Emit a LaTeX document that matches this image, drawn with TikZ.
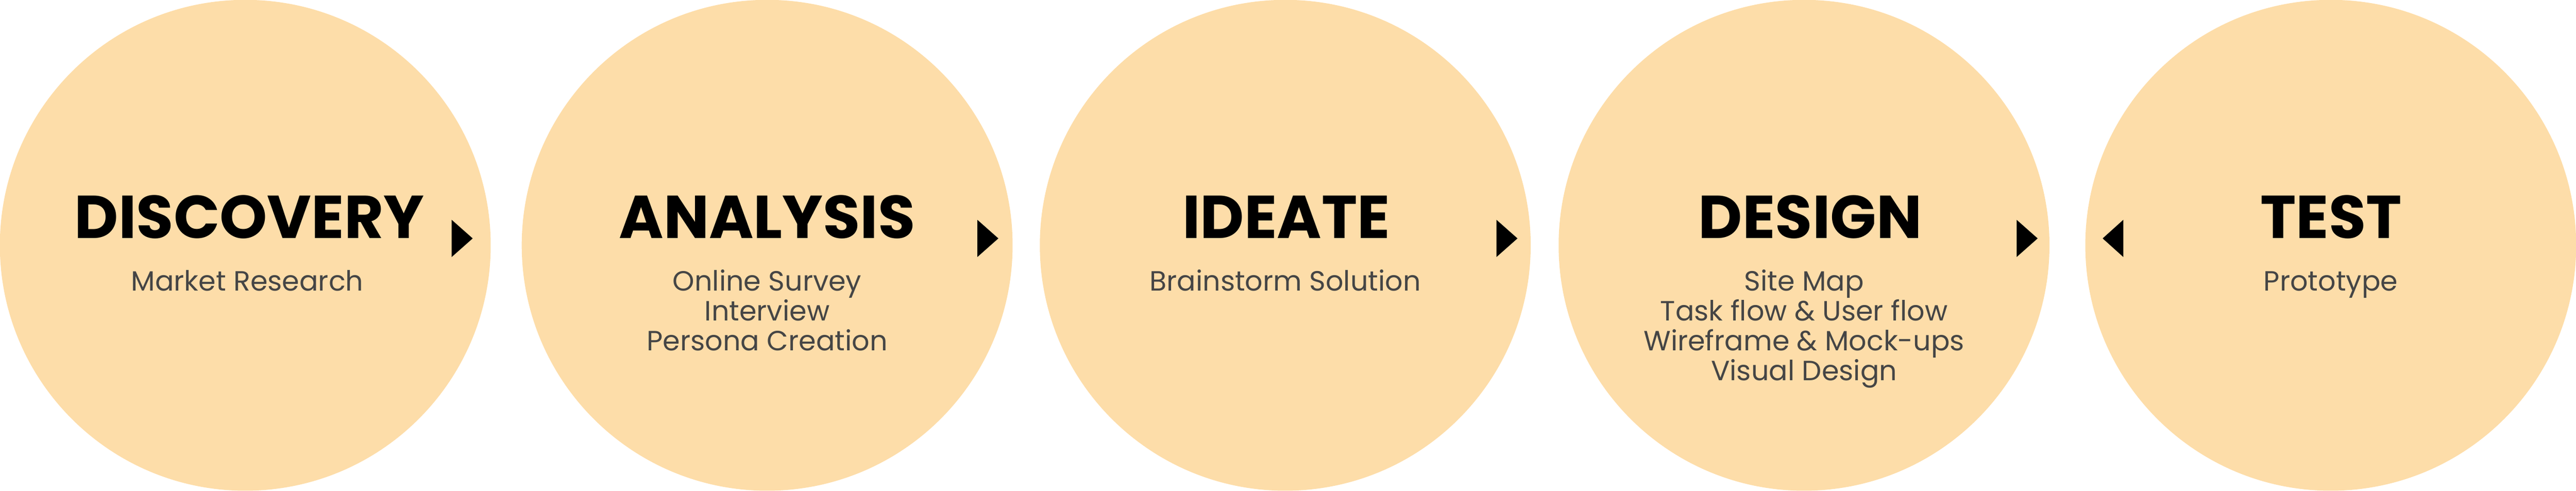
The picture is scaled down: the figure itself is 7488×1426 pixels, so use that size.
\documentclass[tikz,border=0pt]{standalone}
\usepackage{fontspec}
\setmainfont{Poppins}
\usepackage{tikz}
\usepackage{xcolor}
\usetikzlibrary{calc,positioning}
\definecolor{peach}{HTML}{FDDDA9}
\definecolor{subgray}{HTML}{454545}
\tikzset{%
	stage/.style    = {circle, fill=peach, minimum size=14.26cm, inner sep=0pt}, % Stage
	heading/.style  = {anchor=base, inner sep=0pt, font=\fontsize{50}{60}\selectfont\bfseries}, % Title
	subtext/.style  = {anchor=base, inner sep=0pt, align=center, text=subgray, font=\fontsize{23}{24.75}\selectfont}, % Steps
	pointer/.style  = {fill=black}, % Arrow
}

\begin{document}
\begin{tikzpicture}[x=0.01cm,y=0.01cm]
	\useasboundingbox (0,0) rectangle (7488,1426);
	\node [stage] (disc) at (713,713) {};
	\node [stage] (anal) at (2230,713) {};
	\node [stage] (idea) at (3736,713) {};
	\node [stage] (desi) at (5244,713) {};
	\node [stage] (test) at (6775,713) {};
	
	\node [heading] (discT) at ($(disc)+(12,21)$) {DISCOVERY};
	\node [heading] (analT) at ($(anal)+(0,21)$) {ANALYSIS};
	\node [heading] (ideaT) at ($(idea)+(3,21)$) {IDEATE};
	\node [heading] (desiT) at ($(desi)+(18,21)$) {DESIGN};
	\node [heading] (testT) at ($(test)+(1,21)$) {TEST};
	
	% base anchor sits on the last line
	\node [subtext] (discS) at ($(disc)+(6,-132)$) {Market Research};
	\node [subtext] (analS) at ($(anal)+(0,-306)$) {Online Survey\\Interview\\Persona Creation};
	\node [subtext] (ideaS) at ($(idea)+(0,-132)$) {Brainstorm Solution};
	\node [subtext] (desiS) at ($(desi)+(0,-393)$) {Site Map\\Task flow \& User flow\\Wireframe \& Mock-ups\\Visual Design};
	\node [subtext] (testS) at ($(test)+(0,-132)$) {Prototype};
	
	\foreach \x in {1313,2841,4350,5862}
		\fill [pointer] (\x,679) -- (\x+61,733) -- (\x,787) -- cycle;
	\fill [pointer] (6172,679) -- (6112,733) -- (6172,787) -- cycle;
\end{tikzpicture}
\end{document}
